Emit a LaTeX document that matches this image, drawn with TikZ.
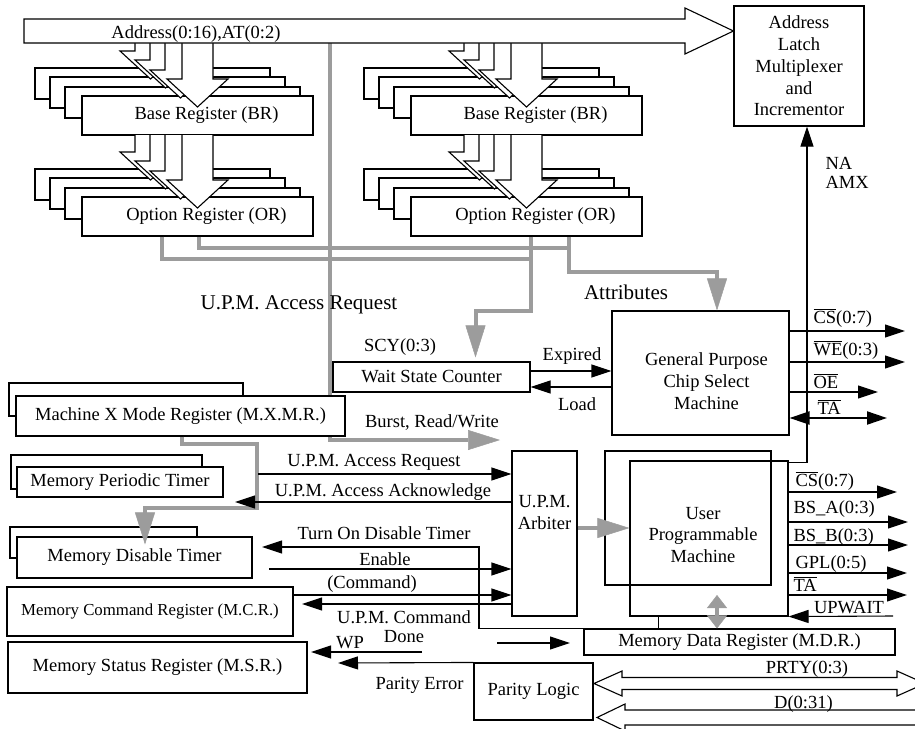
\documentclass[tikz,border=0pt]{standalone}
\usepackage{fontspec}
\setmainfont{Liberation Serif}
\usetikzlibrary{arrows.meta, calc}
\definecolor{gLine}{HTML}{9C9C9C}
\newcommand{\basesz}{\fontsize{18.5}{21.7}\selectfont}
\newcommand{\bigsz}{\fontsize{21}{24}\selectfont}
\newcommand{\mcrsz}{\fontsize{16.8}{20}\selectfont}
\newcommand{\negsig}[1]{$\overline{\hbox{#1}}$}
\tikzset{
  box/.style={draw, fill=white, inner sep=0pt},
  regbox/.style={box, minimum width=231pt, minimum height=39pt,
                 execute at begin node=\hspace*{18pt}},
  regback/.style={draw, fill=white},
  lbl/.style={inner sep=0pt, text height=12pt, text depth=0pt},
  sig/.style={-{Triangle[length=20pt,width=13pt]}},
  sigboth/.style={{Triangle[length=20pt,width=13pt]}-{Triangle[length=20pt,width=13pt]}},
  gline/.style={gLine, line width=4pt},
  garrow/.style={gline, -{Triangle[length=32pt,width=20pt,line width=0.5pt]}},
  gboth/.style={gline, {Triangle[length=13pt,width=20pt,line width=0.5pt]}-{Triangle[length=13pt,width=20pt,line width=0.5pt]}},
}
\begin{document}
\begin{tikzpicture}[x=1pt, y=-1pt, line width=1.1pt, font=\basesz]
  \useasboundingbox (0,0) rectangle (915,728);
  \clip (0,0) rectangle (915,728);

  % gray tap from the address bus
  \coordinate (busTap) at (330,43);
  \coordinate (burstE) at (500,440);
  \draw[garrow] (busTap) |- (burstE);

  % register stacks
  \foreach \ux/\uy/\yt/\nm/\txt in {0/0/43/brL/Base Register (BR), 0/101/135/orL/Option Register (OR),
                                    329/0/43/brR/Base Register (BR), 329/101/135/orR/Option Register (OR)} {
    \foreach \dx/\dy in {-47/-28, -32/-19, -17/-9}
      \draw[regback] ({82+\ux+\dx},{96+\uy+\dy}) rectangle ++(235,31);
    \node[regbox] (\nm) at ({197.5+\ux},{115.5+\uy}) {\txt};
    \foreach \dx/\dy in {-47/-28, -32/-19, -17/-9, 0/0}
      \filldraw[fill=white] ({182+\ux+\dx},{\yt}) -- ({182+\ux+\dx},{79+\uy+\dy}) -- ++(-15,0)
        -- ++(30.5,28) -- ++(30.5,-28) -- ++(-15,0) -- ({213+\ux+\dx},{\yt});
  }

  % address bus
  \node[box, minimum width=130pt, minimum height=120pt, align=center] (alm) at (799,66)
    {Address\\Latch\\Multiplexer\\and\\Incrementor};
  \coordinate (busTip) at ([yshift=35pt]alm.west);
  \filldraw[fill=white] (24,19) -- (685,19) -- (685,8) -- (busTip) -- (685,54) -- (685,43) -- (24,43) -- cycle;
  \node[lbl] (tAddr) at (196,32) {Address(0:16),AT(0:2)};

  % blocks
  \node[box, minimum width=197pt, minimum height=30pt] (wsc) at (431.5,377) {Wait State Counter};
  \node[box, minimum width=177pt, minimum height=124pt,
        label={[align=center, xshift=6pt, yshift=-8pt]center:General Purpose\\Chip Select\\Machine}] (gpcsm) at (700.5,373) {};
  \draw[regback] (9,383) rectangle (243,416);
  \node[box, minimum width=329pt, minimum height=40pt] (mxmr) at (180.5,416) {Machine X Mode Register (M.X.M.R.)};
  \draw[regback] (11,455) rectangle (202,489);
  \node[box, minimum width=206pt, minimum height=30pt] (mpt) at (120,482) {Memory Periodic Timer};
  \draw[regback] (10,527) rectangle (197,558);
  \node[box, minimum width=235pt, minimum height=41pt] (mdt) at (134.5,557.5) {Memory Disable Timer};
  \node[box, minimum width=286pt, minimum height=49pt, font=\mcrsz] (mcr) at (150,611.5) {Memory Command Register (M.C.R.)};
  \node[box, minimum width=299pt, minimum height=51pt] (msr) at (157.5,667.5) {Memory Status Register (M.S.R.)};
  \node[box, minimum width=65pt, minimum height=165pt,
        label={[align=center, yshift=21pt]center:U.P.M.\\Arbiter}] (arb) at (544.5,533.5) {};
  \node[draw, inner sep=0pt, minimum width=166pt, minimum height=134pt] (upmo) at (688,518) {};
  \node[draw, inner sep=0pt, minimum width=158pt, minimum height=155pt,
        label={[align=center, xshift=-6pt, yshift=3.5pt]center:User\\Programmable\\Machine}] (upmi) at (709,538.5) {};
  \node[box, minimum width=311pt, minimum height=26pt] (mdr) at (739.5,642) {Memory Data Register (M.D.R.)};
  \node[box, minimum width=119pt, minimum height=57pt] (pl) at (533.5,691.5) {Parity Logic};

  % gray attribute paths
  \draw[gline] ([xshift=118pt]orL.south west) -- ++(0,11) -| ([xshift=159pt]orR.south west);
  \draw[garrow] ([xshift=159pt]orR.south west) |- ([xshift=16.5pt,yshift=38pt]gpcsm.north) -- ([xshift=16.5pt]gpcsm.north);
  \draw[gline] ([xshift=81pt]orL.south west) -- ++(0,22) -| ([xshift=121pt]orR.south west);
  \draw[garrow] ([xshift=121pt]orR.south west) -- ++(0,74) -| ([xshift=44pt,yshift=4pt]wsc.north);
  \draw[garrow] ([xshift=1.5pt]mxmr.south) -- ++(0,7) -- ++(75,0) -- ++(0,64) -| ([xshift=10.5pt,yshift=-8pt]mdt.north);
  \coordinate (arbO) at ([yshift=5.5pt]arb.east);
  \draw[garrow] (arbO) -- (arbO -| upmi.west);
  \coordinate (mdrT) at (717,595);
  \draw[gboth] (mdrT) -- (mdrT |- mdr.north);

  % chip select machine signals
  \coordinate (expA) at ([yshift=6pt]wsc.east);
  \coordinate (loadA) at ([yshift=-10pt]wsc.east);
  \draw[sig] (expA) -- (expA -| gpcsm.west);
  \draw[sig] (loadA -| gpcsm.west) -- (loadA);
  \coordinate (gpCS) at (905,331);
  \coordinate (gpWE) at (905,362);
  \coordinate (gpOE) at (878,392);
  \coordinate (gpTA) at (887,418);
  \foreach \c in {gpCS, gpWE, gpOE}
    \draw[sig] (\c -| gpcsm.east) -- (\c);
  \draw[sigboth, line width=2pt] (gpTA -| gpcsm.east) -- (gpTA);

  % user programmable machine signals
  \coordinate (upCS) at (897,492);
  \coordinate (upBSA) at (908,522);
  \coordinate (upBSB) at (908,545);
  \coordinate (upGPL) at (907,573);
  \coordinate (upTA) at (907,595);
  \coordinate (upWait) at (893,616);
  \foreach \c in {upCS, upBSA, upBSB, upGPL, upTA}
    \draw[sig] (\c -| upmi.east) -- (\c);
  \draw[sig] (upWait) -- (upmi.south east);
  \draw[sig] ([yshift=-2pt]upmi.north east) -| ([xshift=8pt]alm.south);

  % arbiter and register signals
  \coordinate (reqA) at (258,474);
  \coordinate (ackE) at (235,502);
  \coordinate (tdtK) at (479,547);
  \coordinate (tdtE) at (262,547);
  \coordinate (enA) at (269,569);
  \coordinate (cmdA) at ([yshift=16.5pt]mcr.east);
  \coordinate (doneE) at (302,604);
  \coordinate (wpA) at (422,652);
  \coordinate (wpE) at (311,652);
  \coordinate (peE) at (338,663);
  \coordinate (mdA) at (497,643);
  \coordinate (mdE) at (570,643);
  \draw[sig] (reqA) -- (reqA -| arb.west);
  \draw[sig] (ackE -| arb.west) -- (ackE);
  \draw[sig] ([xshift=29pt]upmi.south west) -- ++(0,12) -| (tdtK) -- (tdtE);
  \draw[sig] (enA) -- (enA -| arb.west);
  \draw[sig] (cmdA) -- (cmdA -| arb.west);
  \draw[sig] (doneE -| arb.west) -- (doneE);
  \draw[sig] (wpA) -- (wpE);
  \draw[sig] (pl.north west) -- (peE);
  \draw[sig] (mdA) -- (mdE);

  % data and parity buses
  \filldraw[fill=white] (594,683.5) -- (622,671) -- (622,677.5) -- (897,677.5) -- (897,671) -- (925,683.5)
    -- (897,696) -- (897,689.5) -- (622,689.5) -- (622,696) -- cycle;
  \filldraw[fill=white] (597,717.5) -- (625,704) -- (625,710) -- (940,710) -- (940,725) -- (625,725)
    -- (625,731) -- cycle;

  % labels
  \node[lbl, font=\bigsz] (tReq) at (299,303) {U.P.M. Access Request};
  \node[lbl, font=\bigsz] (tAttr) at (626,293) {Attributes};
  \node[lbl] (tScy) at (400,345) {SCY(0:3)};
  \node[lbl] (tBurst) at (432,421) {Burst, Read/Write};
  \node[lbl] (tExp) at (572,354) {Expired};
  \node[lbl] (tLoad) at (577,404) {Load};
  \node[lbl, anchor=west] (tCS1) at (813,317) {\negsig{CS}(0:7)};
  \node[lbl, anchor=west] (tWE) at (813,349) {\negsig{WE}(0:3)};
  \node[lbl, anchor=west] (tOE) at (813,382) {\negsig{OE}};
  \node[lbl, anchor=west] (tTA1) at (817,408) {\negsig{TA}};
  \node[align=left, anchor=west, inner sep=0pt] (tNA) at (825,172.5) {NA\\[-2.7pt]AMX};
  \node[lbl, anchor=west] (tCS2) at (795,480) {\negsig{CS}(0:7)};
  \node[lbl, anchor=west] (tBSA) at (793,507) {BS\_A(0:3)};
  \node[lbl, anchor=west] (tBSB) at (793,535) {BS\_B(0:3)};
  \node[lbl, anchor=west] (tGPL) at (795,562) {GPL(0:5)};
  \node[lbl, anchor=west] (tTA2) at (793,585) {\negsig{TA}};
  \node[lbl] (tWait) at (849,607) {UPWAIT};
  \node[lbl] (tReq2) at (374,460) {U.P.M. Access Request};
  \node[lbl] (tAck) at (383,490) {U.P.M. Access Acknowledge};
  \node[lbl] (tTdt) at (384,533) {Turn On Disable Timer};
  \node[lbl] (tEn) at (385,559) {Enable};
  \node[lbl] (tCmd) at (372,582) {(Command)};
  \node[align=center, inner sep=0pt] (tDone) at (404,627) {U.P.M. Command\\[-2.7pt]Done};
  \node[lbl] (tWP) at (350,642) {WP};
  \node[lbl] (tPE) at (419.5,683) {Parity Error};
  \node[lbl] (tPR) at (807,667) {PRTY(0:3)};
  \node[lbl] (tD) at (803.5,702) {D(0:31)};
\end{tikzpicture}
\end{document}
